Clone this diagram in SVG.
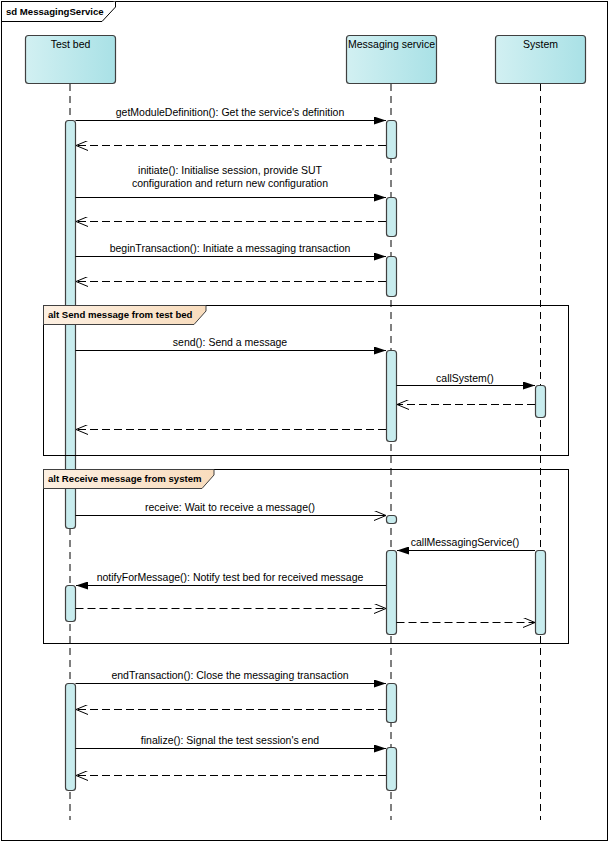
<svg xmlns="http://www.w3.org/2000/svg" width="610" height="843" viewBox="0 0 610 843">
<defs>
<linearGradient id="lg" x1="0" y1="0" x2="1" y2="0">
<stop offset="0" stop-color="#d2f0f2"/><stop offset="1" stop-color="#a9e1e6"/>
</linearGradient>
<linearGradient id="og" x1="0" y1="0" x2="1" y2="0">
<stop offset="0" stop-color="#fdf0e2"/><stop offset="1" stop-color="#f8dcbd"/>
</linearGradient>
<marker id="fa" viewBox="0 0 12 8" refX="12" refY="4" markerWidth="12" markerHeight="8" markerUnits="userSpaceOnUse" orient="auto">
<path d="M0,0 L12,4 L0,8 Z" fill="#000"/>
</marker>
<marker id="oa" viewBox="0 0 12 10" refX="12" refY="5" markerWidth="12" markerHeight="10" markerUnits="userSpaceOnUse" orient="auto">
<path d="M0,0 L12,5 L0,10" fill="none" stroke="#000" stroke-width="1"/>
</marker>
</defs>
<style>
text{font-family:"Liberation Sans",Arial,sans-serif;font-size:10.5px;fill:#000}
.head{fill:url(#lg);stroke:#404040;stroke-width:1.2}
.act{fill:#c8ecee;stroke:#404040;stroke-width:1.2}
.life{stroke:#000;stroke-width:1;stroke-dasharray:7,5;fill:none}
.msg{stroke:#000;stroke-width:1;fill:none}
.ret{stroke:#000;stroke-width:1;fill:none;stroke-dasharray:8,4}
.frag{fill:none;stroke:#000;stroke-width:1}
.tab{fill:url(#og);stroke:#404040;stroke-width:1}
.bold{font-weight:bold;font-size:9.6px}
</style>
<rect x="0" y="0" width="610" height="843" fill="#fff"/>
<g id="frame">
<rect x="1.5" y="1.5" width="606" height="839" fill="none" stroke="#000"/>
<path d="M1.5,21.5 L102,21.5 L115.5,7 L115.5,1.5" fill="#fff" stroke="#000"/>
<text x="6" y="15" class="bold">sd MessagingService</text>
</g>
<g id="lifelines">
<line class="life" x1="70" y1="84" x2="70" y2="820"/>
<line class="life" x1="391" y1="84" x2="391" y2="820"/>
<line class="life" x1="540.5" y1="84" x2="540.5" y2="820"/>
</g>
<g id="node-testbed">
<rect class="head" x="25.5" y="35.5" width="90" height="48" rx="3"/>
<text x="70.5" y="48" text-anchor="middle">Test bed</text>
</g>
<g id="node-messaging">
<rect class="head" x="346.5" y="35.5" width="90" height="48" rx="3"/>
<text x="391.5" y="48" text-anchor="middle">Messaging service</text>
</g>
<g id="node-system">
<rect class="head" x="495.5" y="35.5" width="90" height="48" rx="3"/>
<text x="540.5" y="48" text-anchor="middle">System</text>
</g>
<g id="activations">
<rect class="act" x="65.5" y="120.5" width="10" height="408" rx="3"/>
<rect class="act" x="65.5" y="585.5" width="10" height="36" rx="3"/>
<rect class="act" x="65.5" y="683.5" width="10" height="107" rx="3"/>
<rect class="act" x="386.5" y="120.5" width="10" height="38" rx="3"/>
<rect class="act" x="386.5" y="197.5" width="10" height="39" rx="3"/>
<rect class="act" x="386.5" y="256.5" width="10" height="40" rx="3"/>
<rect class="act" x="386.5" y="350.5" width="10" height="91" rx="3"/>
<rect class="act" x="386.5" y="515.5" width="10" height="8" rx="3"/>
<rect class="act" x="386.5" y="550.5" width="10" height="84" rx="3"/>
<rect class="act" x="386.5" y="683.5" width="10" height="39" rx="3"/>
<rect class="act" x="386.5" y="747.5" width="10" height="43" rx="3"/>
<rect class="act" x="535.5" y="385.5" width="10" height="32" rx="3"/>
<rect class="act" x="535.5" y="550.5" width="10" height="84" rx="3"/>
</g>
<g id="fragment-send">
<rect class="frag" x="43.5" y="305.5" width="525" height="150"/>
<path class="tab" d="M43.5,305.5 L206,305.5 L206,311 L194,324.5 L43.5,324.5 Z"/>
<text x="48" y="318" class="bold">alt Send message from test bed</text>
</g>
<g id="fragment-receive">
<rect class="frag" x="43.5" y="469.5" width="525" height="174"/>
<path class="tab" d="M43.5,469.5 L214,469.5 L214,475 L202,488.5 L43.5,488.5 Z"/>
<text x="48" y="482" class="bold">alt Receive message from system</text>
</g>
<g id="connectors">
<line class="msg" x1="75.5" y1="120.5" x2="386" y2="120.5" marker-end="url(#fa)"/>
<text x="230" y="116" text-anchor="middle">getModuleDefinition(): Get the service's definition</text>
<line class="ret" x1="386" y1="145.5" x2="76" y2="145.5" marker-end="url(#oa)"/>
<line class="msg" x1="75.5" y1="197.5" x2="386" y2="197.5" marker-end="url(#fa)"/>
<text x="230" y="174" text-anchor="middle">initiate(): Initialise session, provide SUT</text>
<text x="230" y="187" text-anchor="middle">configuration and return new configuration</text>
<line class="ret" x1="386" y1="221.5" x2="76" y2="221.5" marker-end="url(#oa)"/>
<line class="msg" x1="75.5" y1="256.5" x2="386" y2="256.5" marker-end="url(#fa)"/>
<text x="230" y="252" text-anchor="middle">beginTransaction(): Initiate a messaging transaction</text>
<line class="ret" x1="386" y1="281.5" x2="76" y2="281.5" marker-end="url(#oa)"/>
<line class="msg" x1="75.5" y1="350.5" x2="386" y2="350.5" marker-end="url(#fa)"/>
<text x="230" y="346" text-anchor="middle">send(): Send a message</text>
<line class="msg" x1="396.5" y1="385.5" x2="535" y2="385.5" marker-end="url(#fa)"/>
<text x="465" y="382" text-anchor="middle">callSystem()</text>
<line class="ret" x1="535" y1="404.5" x2="397" y2="404.5" marker-end="url(#oa)"/>
<line class="ret" x1="386" y1="429.5" x2="76" y2="429.5" marker-end="url(#oa)"/>
<line class="msg" x1="75.5" y1="515.5" x2="386" y2="515.5" marker-end="url(#oa)"/>
<text x="230" y="511" text-anchor="middle">receive: Wait to receive a message()</text>
<line class="msg" x1="535" y1="550.5" x2="397" y2="550.5" marker-end="url(#fa)"/>
<text x="465" y="546" text-anchor="middle">callMessagingService()</text>
<line class="msg" x1="386" y1="585.5" x2="76" y2="585.5" marker-end="url(#fa)"/>
<text x="230" y="581" text-anchor="middle">notifyForMessage(): Notify test bed for received message</text>
<line class="ret" x1="75.5" y1="608.5" x2="386" y2="608.5" marker-end="url(#oa)"/>
<line class="ret" x1="396.5" y1="622.5" x2="535" y2="622.5" marker-end="url(#oa)"/>
<line class="msg" x1="75.5" y1="683.5" x2="386" y2="683.5" marker-end="url(#fa)"/>
<text x="230" y="679" text-anchor="middle">endTransaction(): Close the messaging transaction</text>
<line class="ret" x1="386" y1="709.5" x2="76" y2="709.5" marker-end="url(#oa)"/>
<line class="msg" x1="75.5" y1="748.5" x2="386" y2="748.5" marker-end="url(#fa)"/>
<text x="230" y="744" text-anchor="middle">finalize(): Signal the test session's end</text>
<line class="ret" x1="386" y1="775.5" x2="76" y2="775.5" marker-end="url(#oa)"/>
</g>
</svg>
